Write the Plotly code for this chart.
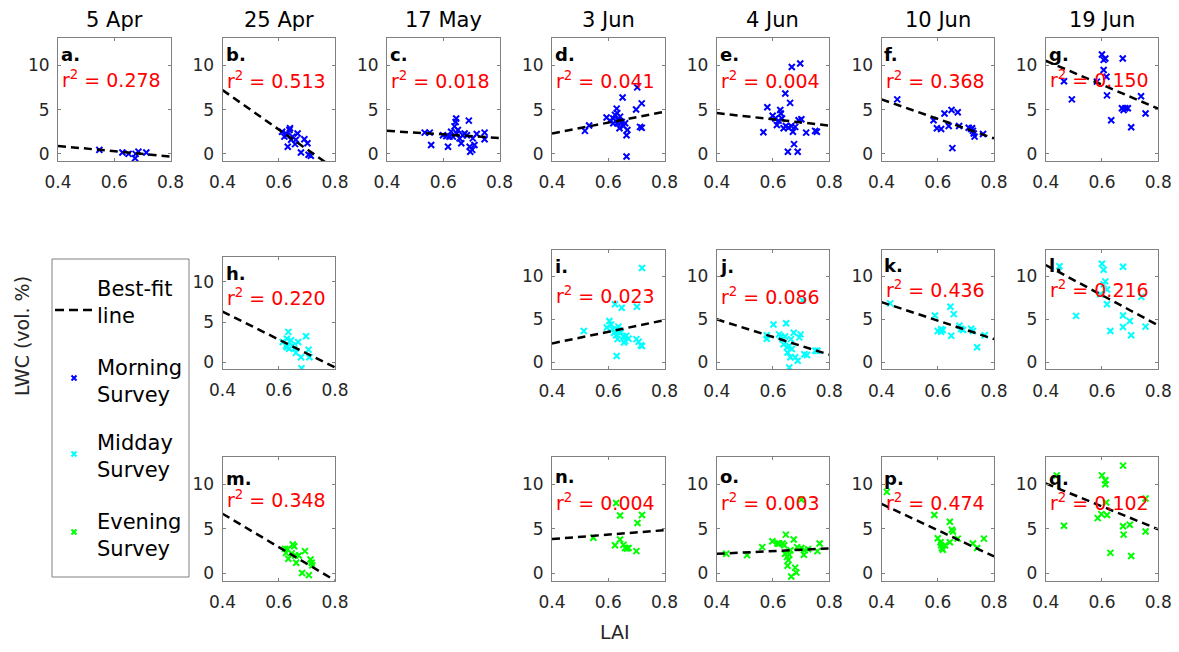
import plotly.graph_objects as go

# ---------------- data ----------------
dates = ["5 Apr", "25 Apr", "17 May", "3 Jun", "4 Jun", "10 Jun", "19 Jun"]
x_ticks = [0.4, 0.6, 0.8]
y_ticks = [0, 5, 10]

a_lai = [0.547, 0.629, 0.651, 0.674, 0.676, 0.686, 0.714]
a_lwc = [0.45, 0.15, 0.0, -0.49, 0.0, 0.26, 0.15]
b_lai = [0.612, 0.626, 0.638, 0.649, 0.632, 0.661, 0.667, 0.620, 0.644, 0.691, 0.702, 0.679, 0.706, 0.714, 0.658, 0.629, 0.640]
b_lwc = [2.5, 2.3, 2.7, 1.95, 0.8, 1.6, 2.3, 1.95, 1.6, 1.65, 1.2, 0.15, -0.1, -0.2, 1.1, 2.1, 2.9]
c_lai = [0.534, 0.552, 0.557, 0.599, 0.611, 0.617, 0.628, 0.634, 0.640, 0.644, 0.646, 0.652, 0.658, 0.664, 0.670, 0.676, 0.684, 0.691, 0.694, 0.696, 0.703, 0.705, 0.711, 0.719, 0.747, 0.747, 0.622, 0.648]
c_lwc = [2.4, 2.4, 1.0, 2.1, 2.0, 0.8, 2.5, 1.95, 3.1, 3.6, 4.0, 2.7, 1.75, 1.2, 2.1, 2.3, 2.1, 3.75, 0.8, 0.25, 0.45, 1.75, 1.0, 2.25, 2.4, 1.65, 1.95, 2.3]
d_lai = [0.517, 0.532, 0.594, 0.606, 0.618, 0.624, 0.630, 0.632, 0.636, 0.640, 0.642, 0.648, 0.651, 0.654, 0.660, 0.665, 0.668, 0.665, 0.699, 0.703, 0.713, 0.719, 0.719, 0.618, 0.632]
d_lwc = [2.6, 3.2, 4.1, 3.75, 4.0, 4.4, 5.1, 3.45, 3.8, 2.9, 4.2, 3.6, 6.35, 3.15, 3.45, 2.1, 2.7, -0.3, 5.0, 7.5, 3.05, 5.7, 2.95, 3.45, 4.6]
e_lai = [0.566, 0.580, 0.599, 0.608, 0.614, 0.620, 0.626, 0.628, 0.632, 0.638, 0.644, 0.646, 0.653, 0.655, 0.661, 0.665, 0.667, 0.671, 0.675, 0.679, 0.688, 0.691, 0.697, 0.701, 0.718, 0.750, 0.756]
e_lwc = [2.45, 5.25, 4.3, 4.0, 3.25, 3.75, 4.95, 4.55, 4.0, 2.9, 6.8, 3.15, 0.25, 2.95, 5.75, 3.15, 9.8, 2.5, 1.1, 3.05, 0.25, 3.8, 10.2, 3.9, 2.4, 2.6, 2.5]
f_lai = [0.456, 0.585, 0.597, 0.612, 0.624, 0.639, 0.649, 0.652, 0.671, 0.676, 0.710, 0.719, 0.725, 0.728, 0.731, 0.761, 0.722]
f_lwc = [6.15, 3.8, 2.9, 2.8, 4.55, 3.15, 4.95, 0.65, 4.7, 3.15, 2.95, 2.8, 2.6, 2.3, 1.95, 2.25, 2.9]
g_lai = [0.465, 0.493, 0.582, 0.600, 0.606, 0.612, 0.616, 0.618, 0.633, 0.606, 0.671, 0.674, 0.683, 0.692, 0.704, 0.739, 0.755, 0.677]
g_lwc = [8.2, 6.15, 8.15, 11.2, 9.45, 10.75, 8.7, 6.6, 3.8, 10.6, 5.15, 10.75, 5.15, 5.15, 3.0, 6.5, 4.55, 4.95]
h_lai = [0.614, 0.629, 0.634, 0.626, 0.637, 0.643, 0.649, 0.661, 0.669, 0.679, 0.681, 0.697, 0.706, 0.709, 0.629, 0.655]
h_lwc = [2.55, 2.95, 3.8, 2.1, 1.7, 2.75, 2.1, 1.2, 2.55, 0.65, -0.7, 3.25, 1.6, 0.65, 1.9, 1.75]
i_lai = [0.513, 0.595, 0.604, 0.610, 0.616, 0.621, 0.624, 0.628, 0.630, 0.633, 0.637, 0.644, 0.648, 0.654, 0.660, 0.664, 0.672, 0.700, 0.702, 0.708, 0.716, 0.720, 0.720, 0.636, 0.656]
i_lwc = [3.65, 4.05, 4.8, 4.4, 3.85, 3.45, 6.75, 3.15, 0.75, 2.7, 3.75, 3.45, 6.35, 3.0, 2.5, 3.1, 2.75, 2.7, 6.45, 2.4, 2.0, 10.95, 1.9, 4.15, 2.3]
j_lai = [0.578, 0.578, 0.602, 0.622, 0.628, 0.634, 0.638, 0.643, 0.647, 0.652, 0.658, 0.662, 0.664, 0.667, 0.658, 0.674, 0.679, 0.688, 0.694, 0.698, 0.706, 0.712, 0.721, 0.751, 0.758, 0.650]
j_lwc = [3.15, 2.75, 4.4, 3.25, 3.0, 2.7, 2.1, 3.0, 4.55, 1.15, 1.9, 0.6, 2.7, 1.55, -0.6, 3.45, 0.6, 0.2, 2.9, 3.25, 7.2, 0.95, 0.85, 1.35, 1.35, 1.75]
k_lai = [0.431, 0.590, 0.600, 0.612, 0.618, 0.645, 0.648, 0.657, 0.677, 0.683, 0.690, 0.719, 0.725, 0.740, 0.767, 0.612]
k_lwc = [6.85, 5.45, 3.65, 3.85, 3.75, 6.45, 3.1, 5.6, 4.25, 3.9, 3.75, 3.9, 3.65, 1.75, 3.15, 3.55]
l_lai = [0.449, 0.508, 0.600, 0.606, 0.612, 0.606, 0.594, 0.618, 0.618, 0.630, 0.675, 0.675, 0.675, 0.699, 0.704, 0.740, 0.755]
l_lwc = [11.15, 5.4, 11.45, 10.75, 9.4, 9.05, 7.9, 8.45, 6.75, 3.65, 11.1, 5.45, 4.1, 4.8, 3.15, 7.6, 4.15]
m_lai = [0.622, 0.631, 0.634, 0.646, 0.650, 0.655, 0.659, 0.662, 0.671, 0.683, 0.693, 0.707, 0.713, 0.717, 0.719, 0.626]
m_lwc = [2.75, 2.7, 1.65, 2.25, 3.25, 3.05, 2.0, 1.2, 2.0, 0.05, 2.5, -0.2, 1.55, 1.2, 0.9, 2.3]
n_lai = [0.547, 0.628, 0.642, 0.624, 0.642, 0.654, 0.660, 0.666, 0.672, 0.700, 0.704, 0.720]
n_lwc = [4.0, 7.9, 6.5, 3.15, 3.8, 3.2, 2.85, 2.8, 2.85, 2.5, 5.65, 6.55]
o_lai = [0.434, 0.508, 0.562, 0.598, 0.616, 0.622, 0.634, 0.640, 0.646, 0.643, 0.650, 0.652, 0.655, 0.658, 0.662, 0.665, 0.674, 0.679, 0.683, 0.686, 0.701, 0.710, 0.713, 0.725, 0.758, 0.766, 0.701]
o_lwc = [2.2, 2.05, 2.95, 3.6, 3.35, 3.35, 3.35, 3.15, 4.35, 2.2, 1.85, 0.85, 1.5, 2.1, 2.6, -0.35, 3.8, 0.65, 0.1, 2.95, 2.85, 2.1, 2.6, 2.7, 2.5, 3.35, 8.3]
p_lai = [0.419, 0.588, 0.600, 0.610, 0.612, 0.615, 0.618, 0.626, 0.643, 0.643, 0.650, 0.654, 0.671, 0.725, 0.740, 0.764]
p_lwc = [9.15, 6.55, 3.95, 3.5, 3.15, 2.85, 2.65, 3.15, 3.5, 5.8, 4.9, 4.7, 3.9, 3.35, 2.85, 3.9]
q_lai = [0.439, 0.465, 0.600, 0.612, 0.612, 0.615, 0.585, 0.598, 0.618, 0.630, 0.675, 0.675, 0.677, 0.699, 0.704, 0.755, 0.755]
q_lwc = [11.0, 5.35, 11.0, 10.45, 10.0, 7.95, 6.2, 6.65, 6.55, 2.3, 12.1, 5.3, 4.35, 5.45, 1.95, 8.4, 4.7]

panel_letters = list("abcdefghijklmnopq")
# best-fit line LWC evaluated at LAI = 0.4 and LAI = 0.8
fit_lai = [0.4, 0.8]
fit_at_04 = [0.9, 7.2, 2.6, 2.3, 4.6, 6.15, 10.5, 6.3, 2.2, 5.0, 7.0, 11.3, 6.7, 3.85, 2.2, 7.8, 10.1]
fit_at_08 = [-0.3, -1.7, 1.8, 4.75, 3.2, 1.75, 5.1, -0.6, 4.9, 0.9, 2.7, 4.3, -0.8, 4.85, 2.8, 1.9, 4.95]
r2_values = ["0.278", "0.513", "0.018", "0.041", "0.004", "0.368", "0.150",
             "0.220", "0.023", "0.086", "0.436", "0.216",
             "0.348", "0.004", "0.003", "0.474", "0.102"]
survey_names = ["Morning Survey", "Midday Survey", "Evening Survey"]

lai_data = [a_lai, b_lai, c_lai, d_lai, e_lai, f_lai, g_lai, h_lai, i_lai, j_lai, k_lai, l_lai, m_lai, n_lai, o_lai, p_lai, q_lai]
lwc_data = [a_lwc, b_lwc, c_lwc, d_lwc, e_lwc, f_lwc, g_lwc, h_lwc, i_lwc, j_lwc, k_lwc, l_lwc, m_lwc, n_lwc, o_lwc, p_lwc, q_lwc]

# ---------------- layout (pixels) ----------------
W, H = 1179, 652
FONT = "DejaVu Sans"
colors = ["#0000ff", "#00ffff", "#00ff00"]
col_left = [58, 222.5, 387, 552, 716.7, 881.5, 1045.7]
col_w = 112.5
# (row, col) for each panel
panel_pos = [(0, c) for c in range(7)] + [(1, 1), (1, 3), (1, 4), (1, 5), (1, 6)] + [(2, 1), (2, 3), (2, 4), (2, 5), (2, 6)]
row_box = {0: (37.7, 161.0), 1: (249.5, 369.3), 2: (456.7, 580.5)}
box_override = {7: (256.7, 369.0)}
letter_y = [55] * 7 + [273.3, 266.7, 266.7, 265, 265] + [478.3, 476.7, 476.7, 478.3, 478.3]
r2_y = [81.7, 83.3, 83.3, 83.3, 83.3, 83.3, 81.7, 300, 298.3, 299.3, 291.7, 291.7, 501.7, 505, 505, 505, 505]

def px(x):
    return x / W

def py(y):
    return 1 - y / H

fig = go.Figure()
layout = dict(width=W, height=H, autosize=False,
              margin=dict(l=0, r=0, t=0, b=0, pad=0, autoexpand=False),
              paper_bgcolor="white", plot_bgcolor="white", showlegend=False)
annotations = []
shapes = []

for i in range(17):
    n = i + 1
    row, col = panel_pos[i]
    top, bot = box_override.get(i, row_box[row])
    left = col_left[col]
    sfx = "" if n == 1 else str(n)
    color = colors[row]
    axstyle = dict(showline=True, mirror="ticks", linecolor="#808080", linewidth=1,
                   ticks="inside", ticklen=3, tickcolor="#808080", showgrid=False,
                   zeroline=False, automargin=False,
                   tickfont=dict(family=FONT, size=17, color="#262626"))
    layout["xaxis" + sfx] = dict(domain=[px(left), px(left + col_w)], range=[0.4, 0.8],
                                 anchor="y" + sfx, tickvals=x_ticks,
                                 ticktext=["%.1f" % v for v in x_ticks],
                                 ticklabelstandoff=6, **axstyle)
    layout["yaxis" + sfx] = dict(domain=[py(bot), py(top)], range=[-0.8, 13.1],
                                 anchor="x" + sfx, tickvals=y_ticks,
                                 ticktext=[str(v) for v in y_ticks],
                                 ticklabelstandoff=4, **axstyle)
    fig.add_trace(go.Scatter(x=lai_data[i], y=lwc_data[i], mode="markers",
                             xaxis="x" + sfx, yaxis="y" + sfx,
                             marker=dict(symbol="x-thin", size=6, color=color,
                                         line=dict(width=2, color=color))))
    fig.add_trace(go.Scatter(x=fit_lai, y=[fit_at_04[i], fit_at_08[i]], mode="lines",
                             xaxis="x" + sfx, yaxis="y" + sfx,
                             line=dict(color="black", width=2.5, dash="8px,5px")))
    annotations.append(dict(x=px(left + 1), y=py(letter_y[i]), xref="paper", yref="paper",
                            xanchor="left", yanchor="middle", showarrow=False,
                            text="<b>%s.</b>" % panel_letters[i],
                            font=dict(family=FONT, size=18, color="black")))
    annotations.append(dict(x=px(left + 2), y=py(r2_y[i] - 3), xref="paper", yref="paper",
                            xanchor="left", yanchor="middle", showarrow=False,
                            text="r<sup>2</sup> = %s" % r2_values[i],
                            font=dict(family=FONT, size=19, color="#ff0000")))

for c, d in enumerate(dates):
    annotations.append(dict(x=px(col_left[c] + col_w / 2), y=py(20), xref="paper", yref="paper",
                            xanchor="center", yanchor="middle", showarrow=False, text=d,
                            font=dict(family=FONT, size=21, color="black")))

annotations.append(dict(x=px(22), y=py(336), xref="paper", yref="paper", textangle=-90,
                        xanchor="center", yanchor="middle", showarrow=False,
                        text="LWC (vol. %)", font=dict(family=FONT, size=19, color="#262626")))
annotations.append(dict(x=px(615), y=py(632), xref="paper", yref="paper",
                        xanchor="center", yanchor="middle", showarrow=False,
                        text="LAI", font=dict(family=FONT, size=19, color="#262626")))

# legend box
shapes.append(dict(type="rect", xref="paper", yref="paper", x0=px(52), x1=px(189),
                   y0=py(577), y1=py(259), line=dict(color="#808080", width=1),
                   fillcolor="white", layer="below"))
shapes.append(dict(type="line", xref="paper", yref="paper", x0=px(55), x1=px(94),
                   y0=py(310), y1=py(310), line=dict(color="black", width=2.5, dash="9px,5px")))
legend_text_y = [302.5, 381, 457, 535]
legend_labels = ["Best-fit<br>line"] + [s.replace(" ", "<br>") for s in survey_names]
for k, lab in enumerate(legend_labels):
    annotations.append(dict(x=px(95), y=py(legend_text_y[k]), xref="paper", yref="paper",
                            xanchor="left", yanchor="middle", align="left", showarrow=False,
                            text=lab, font=dict(family=FONT, size=21, color="black")))
for k in range(3):
    cx, cy, r = 74, legend_text_y[k + 1] - 3, 2.5
    path = "M %f %f L %f %f M %f %f L %f %f" % (px(cx - r), py(cy - r), px(cx + r), py(cy + r),
                                                 px(cx - r), py(cy + r), px(cx + r), py(cy - r))
    shapes.append(dict(type="path", xref="paper", yref="paper", path=path,
                       line=dict(color=colors[k], width=2)))

layout["annotations"] = annotations
layout["shapes"] = shapes
fig.update_layout(**layout)
fig.write_html("out.html", config={"displayModeBar": False},
               post_script="document.body.style.margin='0';document.body.style.overflow='hidden';")
